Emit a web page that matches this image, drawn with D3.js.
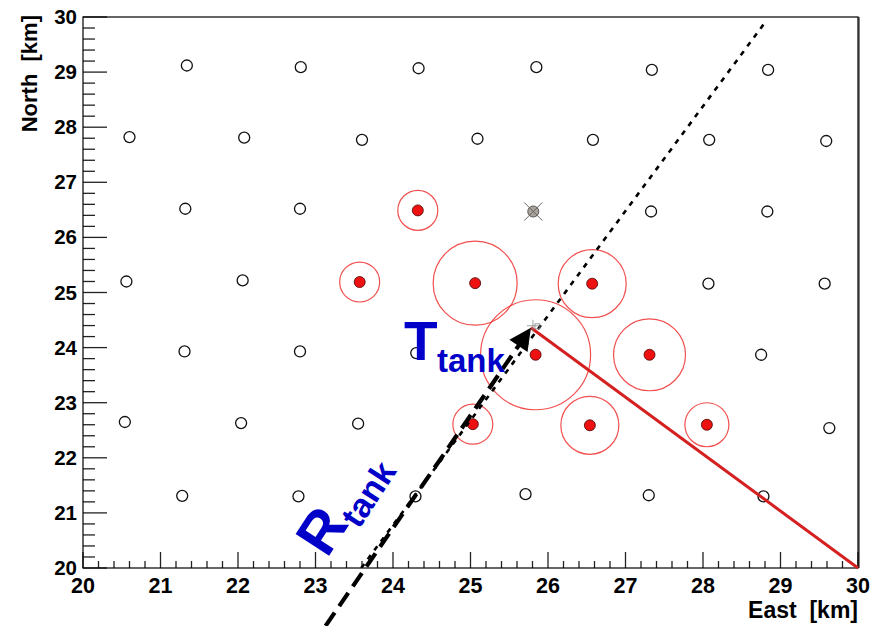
<!DOCTYPE html>
<html>
<head>
<meta charset="utf-8">
<script src="https://cdn.jsdelivr.net/npm/d3@7"></script>
<style>
  body { margin: 0; background: #fff; }
  svg text { font-family: "Liberation Sans", Arial, sans-serif; font-weight: bold; }
</style>
</head>
<body>
<div id="chart"></div>
<script>
// ---- data (km) ----
// stations without signal
const stationEast  = [21.34, 22.81, 24.33, 25.85, 27.34, 28.84,
                      20.60, 22.08, 23.60, 25.09, 26.58, 28.08, 29.59,
                      21.32, 22.80, 27.33, 28.83,
                      20.56, 22.06, 28.07, 29.57,
                      21.31, 22.80, 24.30, 28.75,
                      20.54, 22.04, 23.55, 29.63,
                      21.28, 22.78, 24.29, 25.71, 27.30, 28.78];
const stationNorth = [29.12, 29.09, 29.07, 29.09, 29.04, 29.04,
                      27.82, 27.81, 27.77, 27.79, 27.77, 27.77, 27.75,
                      26.52, 26.52, 26.47, 26.47,
                      25.20, 25.22, 25.16, 25.16,
                      23.93, 23.93, 23.90, 23.87,
                      22.65, 22.63, 22.62, 22.54,
                      21.31, 21.30, 21.30, 21.34, 21.32, 21.30];
// triggered stations and their signals
const hitEast   = [24.32, 23.57, 25.06, 26.57, 25.84, 27.31, 25.03, 26.54, 28.05];
const hitNorth  = [26.49, 25.19, 25.17, 25.16, 23.87, 23.87, 22.61, 22.59, 22.60];
const hitSignal = [13.2, 13.2, 58.3, 38.2, 100, 42.8, 13.2, 27.8, 16.0];
// bad station
const badEast = [25.81];
const badNorth = [26.47];
// reconstructed shower core and axis projections
const core = [25.78, 24.36];
const axisLine = [[23.59, 20.0], [28.81, 29.92]];
const rTankLine = [[23.13, 18.95], core];
const tTankLine = [core, [30.0, 20.0]];
const xDomain = [20, 30];
const yDomain = [20, 30];

const width = 888, height = 626;
const margin = {top: 17, right: 30, bottom: 58, left: 83};

const svg = d3.select("#chart").append("svg")
    .attr("width", width)
    .attr("height", height);

const x = d3.scaleLinear().domain(xDomain).range([margin.left, width - margin.right]);
const y = d3.scaleLinear().domain(yDomain).range([height - margin.bottom, margin.top]);
const r = d3.scaleSqrt().domain([0, 100]).range([0, 55]);

// clip for lines inside the frame
svg.append("clipPath").attr("id", "frame")
    .append("rect")
    .attr("x", x(20)).attr("y", y(30))
    .attr("width", x(30) - x(20)).attr("height", y(20) - y(30));

// ticks
const yTicks = d3.range(20, 30.001, 0.2);
svg.append("g").selectAll("line")
    .data(yTicks)
    .join("line")
    .attr("x1", x(20))
    .attr("x2", d => x(20) + (Math.abs(d - Math.round(d)) < 1e-6 ? 24 : 12))
    .attr("y1", d => y(d)).attr("y2", d => y(d))
    .attr("stroke", "#222").attr("stroke-width", 1.3);

const xTicks = d3.range(20, 30.001, 0.2);
svg.append("g").selectAll("line")
    .data(xTicks)
    .join("line")
    .attr("x1", d => x(d)).attr("x2", d => x(d))
    .attr("y1", y(20))
    .attr("y2", d => y(20) - (Math.abs(d - Math.round(d)) < 1e-6 ? 16 : 7))
    .attr("stroke", "#222").attr("stroke-width", 1.3);

// frame
svg.append("rect")
    .attr("x", x(20)).attr("y", y(30))
    .attr("width", x(30) - x(20)).attr("height", y(20) - y(30))
    .attr("fill", "none").attr("stroke", "#000").attr("stroke-width", 1.2);
svg.append("line")
    .attr("x1", x(30) + 1).attr("x2", x(30) + 1)
    .attr("y1", y(30)).attr("y2", y(20))
    .attr("stroke", "#000").attr("stroke-width", 1);

// tick labels
svg.append("g").selectAll("text")
    .data(d3.range(20, 31))
    .join("text")
    .attr("x", x(20) - 6)
    .attr("y", d => y(d) + 7)
    .attr("text-anchor", "end")
    .attr("font-size", 20.5)
    .text(d => d);

svg.append("g").selectAll("text")
    .data(d3.range(20, 31))
    .join("text")
    .attr("x", d => x(d))
    .attr("y", y(20) + 25)
    .attr("text-anchor", "middle")
    .attr("font-size", 21.5)
    .text(d => d);

// axis titles
svg.append("text")
    .attr("transform", `translate(37,${y(30) - 2}) rotate(-90)`)
    .attr("text-anchor", "end")
    .attr("font-size", 22)
    .attr("xml:space", "preserve")
    .text("North  [km]");

svg.append("text")
    .attr("x", x(30))
    .attr("y", y(20) + 50)
    .attr("text-anchor", "end")
    .attr("font-size", 23)
    .attr("xml:space", "preserve")
    .text("East  [km]");

// stations
const stations = stationEast.map((e, i) => [e, stationNorth[i]]);
svg.append("g").selectAll("circle")
    .data(stations)
    .join("circle")
    .attr("cx", d => x(d[0])).attr("cy", d => y(d[1]))
    .attr("r", 5.5)
    .attr("fill", "none").attr("stroke", "#111").attr("stroke-width", 1.3);

// bad station
const bad = badEast.map((e, i) => [e, badNorth[i]]);
const gBad = svg.append("g").selectAll("g").data(bad).join("g")
    .attr("transform", d => `translate(${x(d[0])},${y(d[1])})`);
gBad.append("circle").attr("r", 5.5).attr("fill", "#aaa39b").attr("stroke", "#555").attr("stroke-width", 1);
gBad.append("path").attr("d", "M-9,-9L9,9M-9,9L9,-9").attr("stroke", "#666").attr("stroke-width", 1);

// triggered stations
const hits = hitEast.map((e, i) => ({e: e, n: hitNorth[i], s: hitSignal[i]}));
svg.append("g").selectAll("circle")
    .data(hits)
    .join("circle")
    .attr("cx", d => x(d.e)).attr("cy", d => y(d.n))
    .attr("r", d => r(d.s))
    .attr("fill", "none").attr("stroke", "#f03030").attr("stroke-width", 1.2)
    .attr("stroke-opacity", 0.85);
svg.append("g").selectAll("circle")
    .data(hits)
    .join("circle")
    .attr("cx", d => x(d.e)).attr("cy", d => y(d.n))
    .attr("r", 5.5)
    .attr("fill", "#ee1111").attr("stroke", "#4a0000").attr("stroke-width", 0.8);

// lines
const line = d3.line().x(d => x(d[0])).y(d => y(d[1]));

svg.append("path")
    .attr("d", line(axisLine))
    .attr("clip-path", "url(#frame)")
    .attr("stroke", "#000").attr("stroke-width", 2.6)
    .attr("stroke-dasharray", "5,6")
    .attr("fill", "none");

svg.append("path")
    .attr("d", line(tTankLine))
    .attr("stroke", "#d42020").attr("stroke-width", 3)
    .attr("fill", "none");

// R_tank arrow: dashed shaft + filled head
const p0 = [x(rTankLine[0][0]), y(rTankLine[0][1])];
const p1 = [x(rTankLine[1][0]), y(rTankLine[1][1])];
const ang = Math.atan2(p1[1] - p0[1], p1[0] - p0[0]);
const headLen = 22, headW = 11;
const base = [p1[0] - headLen * Math.cos(ang), p1[1] - headLen * Math.sin(ang)];
svg.append("line")
    .attr("x1", p0[0]).attr("y1", p0[1])
    .attr("x2", base[0] + 4 * Math.cos(ang)).attr("y2", base[1] + 4 * Math.sin(ang))
    .attr("stroke", "#000").attr("stroke-width", 4.2)
    .attr("stroke-dasharray", "16,8");
svg.append("path")
    .attr("d", `M${p1[0]},${p1[1]}` +
        `L${base[0] + headW * Math.sin(ang)},${base[1] - headW * Math.cos(ang)}` +
        `L${base[0] - headW * Math.sin(ang)},${base[1] + headW * Math.cos(ang)}Z`)
    .attr("fill", "#000");

// core marker
svg.append("path")
    .attr("transform", `translate(${x(core[0]) + 2},${y(core[1]) - 2})`)
    .attr("d", "M-6,0L6,0M0,-6L0,6M2,-2h5v5h-5z")
    .attr("stroke", "#888").attr("stroke-width", 0.8).attr("fill", "none");

// labels
const tLab = svg.append("text").attr("fill", "#0000c8");
tLab.append("tspan").attr("x", 404).attr("y", 360).attr("font-size", 55).text("T");
tLab.append("tspan").attr("x", 437).attr("y", 372).attr("font-size", 33).text("tank");

const rLab = svg.append("text").attr("fill", "#0000c8")
    .attr("transform", "translate(327,559) rotate(-57)");
rLab.append("tspan").attr("x", 0).attr("y", 0).attr("font-size", 58).text("R");
rLab.append("tspan").attr("x", 42).attr("y", 11).attr("font-size", 34).text("tank");
</script>
</body>
</html>
